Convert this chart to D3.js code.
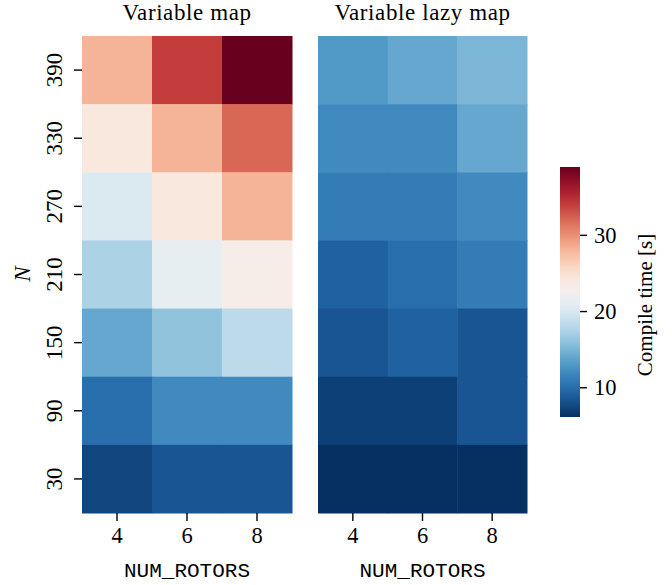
<!DOCTYPE html>
<html>
<head>
<meta charset="utf-8">
<script src="https://cdn.jsdelivr.net/npm/d3@7"></script>
<style>
  body { margin: 0; background: #fff; }
  text { font-family: "Liberation Serif", "Times New Roman", serif; fill: #000; }
</style>
</head>
<body>
<div id="chart"></div>
<script>
// data
const rotors = [4, 6, 8]
const nValues = [390, 330, 270, 210, 150, 90, 30]   // top to bottom
const titles = ["Variable map", "Variable lazy map"]

// compile time [s], rows follow nValues, columns follow rotors
const mapTimes = [
  [28.1, 34.0, 38.9],
  [24.1, 28.1, 32.0],
  [20.2, 24.1, 28.1],
  [17.3, 21.2, 23.2],
  [14.0, 16.0, 18.2],
  [10.0, 12.0, 12.0],
  [7.4, 8.4, 8.4]
]
const lazyTimes = [
  [13.0, 14.0, 15.0],
  [12.0, 12.0, 14.0],
  [11.0, 11.0, 12.0],
  [9.2, 10.0, 11.0],
  [8.4, 9.2, 8.4],
  [7.1, 7.1, 8.4],
  [6.1, 6.1, 6.1]
]
const colorTicks = [10, 20, 30]
const vmin = 6.1, vmax = 38.9

const W = 672, H = 585
const svg = d3.select("#chart").append("svg")
  .attr("width", W)
  .attr("height", H)

const plotTop = 36, plotBottom = 513
const panels = [
  { left: 82, right: 292, data: mapTimes, title: titles[0] },
  { left: 318, right: 527, data: lazyTimes, title: titles[1] }
]

// RdBu reversed: low = blue, high = red
const color = v => d3.interpolateRdBu(1 - (v - vmin) / (vmax - vmin))

const y = d3.scaleBand().domain(nValues).range([plotTop, plotBottom])

panels.forEach((p, pi) => {
  const x = d3.scaleBand().domain(rotors).range([p.left, p.right])
  const g = svg.append("g")

  const cells = []
  p.data.forEach((row, i) => row.forEach((v, j) => cells.push({ n: nValues[i], r: rotors[j], v })))

  g.selectAll("rect.cell")
    .data(cells)
    .enter()
    .append("rect")
    .attr("class", "cell")
    .attr("x", d => x(d.r))
    .attr("y", d => y(d.n))
    .attr("width", x.bandwidth() + 0.5)
    .attr("height", y.bandwidth() + 0.5)
    .attr("fill", d => color(d.v))

  // x axis
  const xAxis = d3.axisBottom(x).tickSize(8).tickPadding(5)
  g.append("g")
    .attr("transform", "translate(0," + plotBottom + ")")
    .call(xAxis)
    .call(a => a.select(".domain").remove())
    .call(a => a.selectAll(".tick line").attr("stroke-width", 1.4))
    .call(a => a.selectAll(".tick text")
      .attr("dy", "0.75em")
      .style("font-size", "22.5px"))

  g.append("text")
    .text("NUM_ROTORS")
    .attr("x", (p.left + p.right) / 2)
    .attr("y", 577)
    .attr("text-anchor", "middle")
    .style("font-family", "Liberation Mono, DejaVu Sans Mono, monospace")
    .style("font-size", "21px")

  g.append("text")
    .text(p.title)
    .attr("x", (p.left + p.right) / 2)
    .attr("y", 20)
    .attr("text-anchor", "middle")
    .style("font-size", "23px")
    .style("letter-spacing", "0.6px")

  // y axis only on the first panel
  if (pi === 0) {
    const yAxis = d3.axisLeft(y).tickSize(8).tickPadding(0).tickFormat(() => "")
    g.append("g")
      .attr("transform", "translate(" + p.left + ",0)")
      .call(yAxis)
      .call(a => a.select(".domain").remove())
      .call(a => a.selectAll(".tick line").attr("stroke-width", 1.4))

    g.selectAll("text.ylab")
      .data(nValues)
      .enter()
      .append("text")
      .attr("class", "ylab")
      .text(d => d)
      .attr("transform", d => "translate(" + 62 + "," + (y(d) + y.bandwidth() / 2) + ") rotate(-90)")
      .attr("text-anchor", "middle")
      .style("font-size", "23px")

    g.append("text")
      .text("N")
      .attr("transform", "translate(" + 30 + "," + 274 + ") rotate(-90)")
      .attr("text-anchor", "middle")
      .style("font-style", "italic")
      .style("font-size", "23px")
  }
})

// colorbar
const cbX = 560, cbW = 20, cbTop = 167, cbBottom = 417
const cy = d3.scaleLinear().domain([vmin, vmax]).range([cbBottom, cbTop])

const defs = svg.append("defs")
const grad = defs.append("linearGradient")
  .attr("id", "cbgrad")
  .attr("x1", 0).attr("y1", 1).attr("x2", 0).attr("y2", 0)
d3.range(0, 1.0001, 0.05).forEach(t => {
  grad.append("stop")
    .attr("offset", t)
    .attr("stop-color", color(vmin + t * (vmax - vmin)))
})

svg.append("rect")
  .attr("x", cbX)
  .attr("y", cbTop)
  .attr("width", cbW)
  .attr("height", cbBottom - cbTop)
  .attr("fill", "url(#cbgrad)")

svg.append("g")
  .attr("transform", "translate(" + (cbX + cbW) + ",0)")
  .call(d3.axisRight(cy).tickValues(colorTicks).tickSize(7).tickPadding(7))
  .call(a => a.select(".domain").remove())
  .call(a => a.selectAll(".tick line").attr("stroke-width", 1.4))
  .call(a => a.selectAll(".tick text")
    .style("font-size", "22.5px"))

svg.append("text")
  .text("Compile time [s]")
  .attr("transform", "translate(" + 652 + "," + 305 + ") rotate(-90)")
  .attr("text-anchor", "middle")
  .style("font-size", "21px")
</script>
</body>
</html>
